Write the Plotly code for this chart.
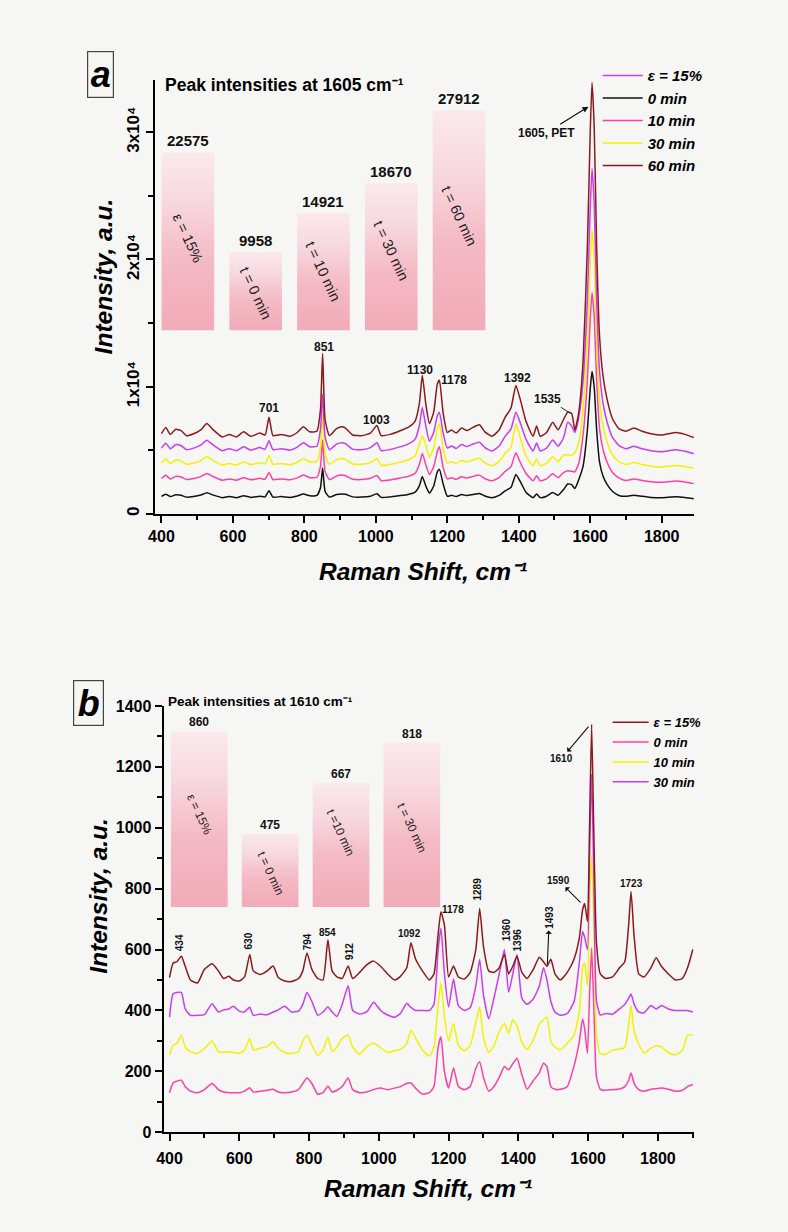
import plotly.graph_objects as go

W, H = 788, 1232
F = "Liberation Sans, Arial, Helvetica, sans-serif"

# ---------------- Panel a data ----------------
A_X = [400, 412, 425, 440, 455, 470, 490, 510, 527, 545, 570, 590, 610, 630, 650, 675, 690, 701, 712, 735,
       760, 780, 797, 815, 835, 845, 851, 858, 870, 890, 905, 915, 935, 960, 985, 1003, 1015, 1040, 1065, 1090,
       1110, 1122, 1130, 1140, 1150, 1162, 1172, 1178, 1188, 1200, 1212, 1225, 1240, 1255, 1272, 1290, 1305, 1325, 1345, 1362,
       1378, 1392, 1405, 1420, 1440, 1450, 1460, 1478, 1495, 1510, 1525, 1537, 1548, 1557, 1568, 1580, 1592, 1600, 1605, 1611,
       1618, 1626, 1636, 1648, 1662, 1680, 1700, 1722, 1745, 1770, 1800, 1840, 1865, 1890]
A_T60 = [6300, 6800, 6250, 6650, 6550, 6150, 6300, 6600, 7100, 6600, 6050, 6250, 6050, 6450, 6100, 6350, 6200, 7600, 6150, 6250,
         6100, 6400, 6850, 6450, 6500, 8200, 12600, 7400, 6150, 6700, 6850, 6750, 6200, 6150, 6350, 6950, 6150, 6250, 6500, 6800,
         7300, 8700, 10900, 8600, 7100, 8000, 10200, 10500, 8000, 6400, 6600, 6350, 6750, 6550, 6800, 7000, 6450, 6100, 6600, 7600,
         8300, 10100, 8900, 7300, 6100, 6900, 6100, 6400, 7200, 6600, 7400, 8000, 7900, 6600, 8000, 12000, 21000, 30000, 33900, 30500,
         21000, 14000, 10800, 8900, 7500, 6700, 6500, 6750, 6500, 6300, 6200, 6400, 6250, 6000]
A_T0 = [1370, 1550, 1360, 1500, 1460, 1320, 1370, 1480, 1660, 1480, 1280, 1360, 1280, 1430, 1300, 1390, 1340, 1830, 1320, 1360,
        1300, 1410, 1570, 1430, 1450, 2060, 3600, 1770, 1320, 1520, 1570, 1540, 1340, 1320, 1390, 1590, 1300, 1340, 1430, 1530,
        1710, 2220, 2950, 2180, 1640, 2200, 3300, 3500, 2400, 1390, 1460, 1370, 1520, 1440, 1530, 1610, 1410, 1280, 1460, 1820,
        2070, 3100, 2500, 1710, 1280, 1570, 1280, 1390, 1680, 1460, 1900, 2350, 2300, 2000, 2700, 3750, 6600, 9810, 11200, 10000,
        6600, 4100, 2960, 2280, 1780, 1450, 1380, 1470, 1380, 1300, 1270, 1340, 1290, 1200]
A_T10 = [2780, 3030, 2750, 2950, 2900, 2700, 2780, 2930, 3180, 2930, 2650, 2750, 2650, 2850, 2680, 2800, 2730, 3250, 2700, 2750,
         2680, 2830, 3050, 2850, 2880, 3730, 5800, 3330, 2700, 2980, 3050, 3000, 2730, 2700, 2800, 3020, 2620, 2670, 2800, 2950,
         3200, 3900, 4750, 3850, 3100, 3700, 4900, 5270, 3700, 2750, 2850, 2720, 2920, 2820, 2950, 3050, 2770, 2600, 2850, 3350,
         3700, 4800, 4000, 3200, 2600, 3000, 2600, 2750, 3150, 2850, 3250, 3400, 3350, 3300, 4000, 6210, 10500, 15310, 17400, 15580,
         10500, 6750, 5040, 4020, 3270, 2840, 2630, 2750, 2630, 2530, 2480, 2580, 2500, 2380]
A_T30 = [4000, 4320, 3970, 4230, 4160, 3900, 4000, 4190, 4520, 4190, 3840, 3970, 3840, 4100, 3870, 4030, 3930, 4600, 3900, 3970,
         3870, 4060, 4360, 4100, 4130, 5230, 8110, 4710, 3900, 4260, 4360, 4290, 3930, 3900, 4030, 4340, 3820, 3890, 4050, 4240,
         4570, 5480, 6120, 5410, 4440, 5200, 6700, 7080, 5200, 3980, 4110, 3950, 4210, 4080, 4240, 4370, 4020, 3790, 4110, 4760,
         5220, 7080, 5900, 4570, 3790, 4310, 3790, 3980, 4500, 4110, 4630, 4650, 4600, 4800, 5600, 8330, 13670, 19680, 22300, 20020,
         13670, 8990, 6860, 5590, 4650, 4120, 3880, 4040, 3880, 3750, 3680, 3810, 3720, 3580]
A_EPS15 = [5170, 5560, 5130, 5440, 5360, 5050, 5170, 5400, 5790, 5400, 4970, 5130, 4970, 5280, 5010, 5210, 5090, 5750, 5050, 5130,
           5010, 5250, 5600, 5280, 5320, 6650, 9400, 6030, 5050, 5480, 5600, 5520, 5090, 5050, 5210, 5600, 4980, 5060, 5250, 5490,
           5880, 6970, 8370, 6890, 5720, 6420, 7700, 7980, 6420, 5180, 5330, 5140, 5450, 5290, 5490, 5640, 5210, 4940, 5330, 6110,
           6660, 7980, 7100, 5880, 4940, 5570, 4940, 5180, 5800, 5330, 5950, 7200, 6900, 6400, 7600, 10430, 16830, 24030, 27150, 24430,
           16830, 11230, 8670, 7150, 6030, 5390, 5120, 5320, 5120, 4970, 4890, 5050, 4930, 4730]
A_BAR_NAMES = ["ε = 15%", "t = 0 min", "t = 10 min", "t = 30 min", "t = 60 min"]
A_BAR_VALUES = [22575, 9958, 14921, 18670, 27912]
A_PEAK_LABELS = ["701", "851", "1003", "1130", "1178", "1392"]
A_YTICK_TEXT = ["0", "1x10⁴", "2x10⁴", "3x10⁴"]

# ---------------- Panel b data ----------------
B_X = [400, 410, 421, 434, 445, 460, 480, 500, 522, 540, 555, 570, 583, 600, 615, 630, 640, 660, 680, 697,
       712, 730, 750, 770, 782, 794, 808, 825, 840, 854, 866, 880, 895, 912, 925, 945, 965, 985, 1005, 1025,
       1045, 1062, 1080, 1092, 1105, 1125, 1145, 1158, 1170, 1178, 1188, 1200, 1214, 1228, 1245, 1262, 1278, 1289, 1300, 1315,
       1330, 1345, 1360, 1372, 1384, 1396, 1410, 1425, 1443, 1460, 1472, 1482, 1493, 1505, 1520, 1540, 1560, 1575, 1584, 1590,
       1598, 1604, 1610, 1616, 1624, 1635, 1650, 1670, 1690, 1705, 1716, 1723, 1732, 1745, 1760, 1780, 1795, 1810, 1830, 1850,
       1870, 1885, 1900]
B_EPS15 = [508, 555, 560, 578, 545, 500, 490, 535, 553, 530, 505, 512, 500, 497, 510, 584, 530, 518, 530, 546,
           508, 497, 495, 505, 530, 589, 535, 505, 500, 632, 530, 510, 505, 546, 505, 525, 550, 562, 545, 520,
           500, 512, 540, 622, 570, 530, 500, 520, 650, 724, 680, 510, 546, 510, 503, 525, 600, 735, 610, 530,
           525, 540, 584, 520, 545, 578, 525, 505, 535, 575, 560, 545, 568, 520, 500, 525, 570, 640, 730, 751,
           692, 1000, 1340, 1000, 620, 520, 505, 510, 540, 560, 680, 791, 640, 520, 510, 540, 573, 545, 520, 500,
           505, 540, 600]
B_T30 = [378, 454, 459, 459, 405, 384, 384, 386, 422, 395, 402, 405, 414, 398, 395, 411, 384, 388, 386, 395,
         402, 414, 395, 398, 420, 459, 430, 384, 395, 411, 395, 380, 420, 481, 400, 388, 395, 427, 400, 385,
         378, 390, 424, 410, 400, 400, 400, 420, 600, 670, 520, 411, 503, 416, 400, 410, 480, 567, 450, 373,
         440, 520, 600, 460, 520, 584, 440, 420, 438, 480, 540, 500, 430, 395, 384, 390, 430, 560, 659, 640,
         600, 900, 1176, 850, 430, 385, 390, 388, 405, 420, 440, 454, 420, 395, 392, 416, 405, 416, 405, 400,
         400, 400, 395]
B_T10 = [254, 286, 292, 319, 280, 265, 259, 275, 300, 265, 262, 265, 262, 259, 270, 308, 270, 276, 281, 297,
         275, 262, 259, 266, 300, 319, 286, 252, 270, 314, 265, 280, 308, 319, 280, 256, 281, 292, 278, 262,
         268, 272, 290, 335, 310, 270, 250, 280, 420, 490, 380, 300, 357, 285, 268, 285, 360, 411, 310, 262,
         285, 330, 357, 325, 370, 350, 295, 272, 303, 355, 370, 378, 300, 280, 270, 292, 320, 400, 540, 557,
         480, 750, 910, 700, 320, 258, 256, 270, 274, 278, 350, 416, 330, 290, 260, 276, 284, 280, 262, 254,
         268, 319, 319]
B_T0 = [130, 162, 168, 171, 150, 135, 130, 140, 160, 140, 132, 130, 130, 130, 135, 146, 132, 135, 138, 141,
        132, 130, 132, 140, 160, 178, 160, 125, 130, 151, 132, 138, 150, 178, 140, 130, 132, 140, 145, 140,
        145, 150, 160, 162, 145, 125, 130, 150, 280, 314, 200, 145, 211, 150, 140, 150, 210, 232, 180, 135,
        150, 180, 216, 205, 225, 243, 190, 141, 170, 195, 227, 215, 150, 141, 141, 150, 220, 300, 373, 340,
        259, 450, 605, 420, 180, 141, 138, 140, 142, 150, 170, 195, 160, 140, 135, 141, 143, 145, 141, 135,
        138, 150, 157]
B_BAR_NAMES = ["ε = 15%", "t = 0 min", "t =10 min", "t = 30 min"]
B_BAR_VALUES = [860, 475, 667, 818]

# ---------------- helpers ----------------
def px(x):
    return x / W

def py(y):
    return 1 - y / H

C_DRED = "#8b1a1a"
C_VIOL = "#c93cf2"
C_PINK = "#ff3fa4"
C_YELL = "#f2f200"
C_BLK = "#111111"

fig = go.Figure()

a_series = [
    ("0 min", A_T0, C_BLK, 2),
    ("10 min", A_T10, C_PINK, 3),
    ("30 min", A_T30, C_YELL, 4),
    ("ε = 15%", A_EPS15, C_VIOL, 1),
    ("60 min", A_T60, C_DRED, 5),
]
for name, ys, col, rank in a_series:
    fig.add_trace(go.Scatter(x=A_X, y=ys, mode="lines", name=name, legendrank=rank,
                             line=dict(color=col, width=1.5, shape="spline", smoothing=0.5),
                             xaxis="x", yaxis="y", legend="legend", hoverinfo="skip"))

b_series = [
    ("0 min", B_T0, C_PINK, 2),
    ("10 min", B_T10, C_YELL, 3),
    ("30 min", B_T30, C_VIOL, 4),
    ("ε = 15%", B_EPS15, C_DRED, 1),
]
for name, ys, col, rank in b_series:
    fig.add_trace(go.Scatter(x=B_X, y=ys, mode="lines", name=name, legendrank=rank,
                             line=dict(color=col, width=1.5, shape="spline", smoothing=0.5),
                             xaxis="x2", yaxis="y2", legend="legend2", hoverinfo="skip"))

BAR_SCALE = [[0, "rgb(241,170,184)"], [0.4, "rgb(244,186,197)"], [0.75, "rgb(248,218,225)"], [1, "rgb(250,233,237)"]]

def add_bars(values, base, hw, xa, ya):
    for i, v in enumerate(values):
        fig.add_trace(go.Scatter(
            x=[i - hw, i + hw, i + hw, i - hw, i - hw], y=[base, base, v, v, base],
            mode="lines", fill="toself", line=dict(width=0, color="rgba(0,0,0,0)"),
            fillgradient=dict(type="vertical", colorscale=BAR_SCALE),
            xaxis=xa, yaxis=ya, showlegend=False, hoverinfo="skip"))

add_bars(A_BAR_VALUES, 0, 0.388, "x3", "y3")
add_bars(B_BAR_VALUES, 200, 0.40, "x4", "y4")

axis_common = dict(showline=True, linecolor="black", linewidth=2, ticks="outside", ticklen=7,
                   tickwidth=2, tickcolor="black", showgrid=False, zeroline=False,
                   tickfont=dict(family=F, size=16, color="black", weight="bold"))
minor_x = dict(ticks="outside", ticklen=4, tickwidth=1.5, tickcolor="black", dtick=100)

ya_common = dict(axis_common)
ya_common["tickfont"] = dict(family=F, size=17, color="black", weight="bold")

fig.update_layout(
    width=W, height=H, margin=dict(l=0, r=0, t=0, b=0),
    paper_bgcolor="#f6f6f5", plot_bgcolor="rgba(0,0,0,0)",
    font=dict(family=F, color="black"),
    xaxis=dict(domain=[px(149), px(693)], range=[381, 1890], anchor="y",
               tickvals=[400, 600, 800, 1000, 1200, 1400, 1600, 1800], minor=dict(minor_x, tick0=400),
               **axis_common),
    yaxis=dict(domain=[py(513), py(73)], range=[0, 34100], anchor="x",
               tickvals=[0, 10000, 20000, 30000], ticktext=A_YTICK_TEXT,
               tickangle=-90, minor=dict(ticks="outside", ticklen=5, tickwidth=1.5, tickcolor="black", dtick=5000),
               **ya_common),
    xaxis2=dict(domain=[px(158), px(693)], range=[383, 1903], anchor="y2", ticklabelstandoff=4,
                tickvals=[400, 600, 800, 1000, 1200, 1400, 1600, 1800], minor=dict(minor_x, tick0=400),
                **axis_common),
    yaxis2=dict(domain=[py(1140), py(707.7)], range=[0, 1400], anchor="x2", dtick=200,
                minor=dict(ticks="outside", ticklen=5, tickwidth=1.5, tickcolor="black", dtick=100),
                **axis_common),
    xaxis3=dict(domain=[px(148.3), px(490.3)], range=[-0.5, 4.5], anchor="y3", visible=False),
    yaxis3=dict(domain=[py(327), py(87)], range=[0, 30000], anchor="x3", visible=False),
    xaxis4=dict(domain=[px(158.25), px(444.25)], range=[-0.5, 3.5], anchor="y4", visible=False),
    yaxis4=dict(domain=[py(911.7), py(722.7)], range=[200, 900], anchor="x4", visible=False),
    legend=dict(x=px(596), y=py(52), xanchor="left", yanchor="top", bgcolor="rgba(0,0,0,0)",
                font=dict(family=F, size=15, color="black", weight="bold", style="italic"),
                itemwidth=40, tracegroupgap=0),
    legend2=dict(x=px(606), y=py(709), xanchor="left", yanchor="top", bgcolor="rgba(0,0,0,0)",
                 font=dict(family=F, size=13, color="black", weight="bold", style="italic"),
                 itemwidth=36, tracegroupgap=0),
    showlegend=True,
)

ann = []

def paper_text(x, y, text, size, angle=0, xanchor="center", italic=False, bold=True, color="black"):
    t = text
    if italic:
        t = "<i>" + t + "</i>"
    if bold:
        t = "<b>" + t + "</b>"
    ann.append(dict(x=px(x), y=py(y), xref="paper", yref="paper", text=t, showarrow=False,
                    textangle=angle, xanchor=xanchor, yanchor="middle",
                    font=dict(family=F, size=size, color=color)))

# panel labels
for lab, cx, cy, w, h in [("a", 94.5, 67.5, 25, 45), ("b", 82, 705, 29, 44)]:
    ann.append(dict(x=px(cx), y=py(cy), xref="paper", yref="paper", text="<b><i>" + lab + "</i></b>",
                    showarrow=False, xanchor="center", yanchor="middle", width=w, height=h,
                    bordercolor="#444", borderwidth=1.2, borderpad=0,
                    font=dict(family=F, size=36, color="black")))

# titles
paper_text(157, 78, "Peak intensities at 1605 cm⁻¹", 17.5, xanchor="left")
paper_text(160, 703, "Peak intensities at 1610 cm⁻¹", 13.5, xanchor="left")
paper_text(97, 272, "Intensity, a.u.", 24.5, angle=-90, italic=True)
paper_text(420, 571, "Raman Shift, cm⁻¹", 24.5, italic=True)
paper_text(92, 900, "Intensity, a.u.", 24.5, angle=-90, italic=True)
paper_text(425, 1197, "Raman Shift, cm⁻¹", 24.5, italic=True)

# inset value labels and rotated labels
for i, v in enumerate(A_BAR_VALUES):
    ann.append(dict(x=i, y=v, xref="x3", yref="y3", text="<b>" + str(v) + "</b>", showarrow=False,
                    yanchor="bottom", yshift=1, font=dict(family=F, size=15, color="#111")))
for i, v in enumerate(B_BAR_VALUES):
    ann.append(dict(x=i, y=v, xref="x4", yref="y4", text="<b>" + str(v) + "</b>", showarrow=False,
                    yanchor="bottom", yshift=0, font=dict(family=F, size=12, color="#111")))
A_LABEL_FRAC = [0.52, 0.48, 0.50, 0.54, 0.52]
for i, (nm, v) in enumerate(zip(A_BAR_NAMES, A_BAR_VALUES)):
    ann.append(dict(x=i, y=v * A_LABEL_FRAC[i], xref="x3", yref="y3", text=nm, showarrow=False,
                    textangle=65, font=dict(family=F, size=14.5, color="#222")))
B_LABEL_FRAC = [0.53, 0.46, 0.60, 0.48]
for i, (nm, v) in enumerate(zip(B_BAR_NAMES, B_BAR_VALUES)):
    ann.append(dict(x=i, y=200 + (v - 200) * B_LABEL_FRAC[i], xref="x4", yref="y4", text=nm, showarrow=False,
                    textangle=65, font=dict(family=F, size=12, color="#222")))

# panel a peak labels
a_lab_pos = [(700, 8316), (856, 13150), (1003, 7417), (1124, 11340), (1220, 10560), (1396, 10700)]
for t, (x, y) in zip(A_PEAK_LABELS, a_lab_pos):
    ann.append(dict(x=x, y=y, xref="x", yref="y", text="<b>" + t + "</b>", showarrow=False,
                    font=dict(family=F, size=12, color="#111")))
ann.append(dict(x=1542, y=7950, xref="x", yref="y", text="<b>1535</b>", showarrow=True, arrowhead=0,
                arrowwidth=1, arrowcolor="#222", ax=-22, ay=-14, font=dict(family=F, size=12, color="#111")))
ann.append(dict(x=1595, y=32000, xref="x", yref="y", text="<b>1605, PET</b>", showarrow=True, arrowhead=2,
                arrowsize=1, arrowwidth=1.2, arrowcolor="#111", ax=-42, ay=26,
                font=dict(family=F, size=12, color="#111")))

# panel b peak labels
b_lab = [("434", 431, 622, -90), ("630", 627, 629, -90), ("794", 794, 627, -90), ("854", 854, 657, 0),
         ("912", 914, 595, -90), ("1092", 1088, 652, 0), ("1178", 1214, 732, 0), ("1289", 1284, 800, -90),
         ("1360", 1366, 665, -90), ("1396", 1398, 632, -90), ("1723", 1723, 818, 0)]
for t, x, y, ang in b_lab:
    ann.append(dict(x=x, y=y, xref="x2", yref="y2", text="<b>" + t + "</b>", showarrow=False,
                    textangle=ang, font=dict(family=F, size=10, color="#111")))
ann.append(dict(x=1483, y=551, xref="x2", yref="y2", text="<b>1493</b>", showarrow=True, arrowhead=2,
                arrowside="start", arrowwidth=1.1, arrowcolor="#111", ax=2, ay=-47, textangle=-90,
                font=dict(family=F, size=10, color="#111")))
ann.append(dict(x=1578, y=755, xref="x2", yref="y2", text="<b>1590</b>", showarrow=True, arrowhead=2,
                arrowside="start", arrowwidth=1.1, arrowcolor="#111", ax=-22, ay=-22,
                font=dict(family=F, size=10, color="#111")))
ann.append(dict(x=1601, y=1332, xref="x2", yref="y2", text="<b>1610</b>", showarrow=True, arrowhead=2,
                arrowside="start", arrowwidth=1.1, arrowcolor="#111", ax=-27, ay=32,
                font=dict(family=F, size=10, color="#111")))

fig.update_layout(annotations=ann)
fig.write_html("out.html")
